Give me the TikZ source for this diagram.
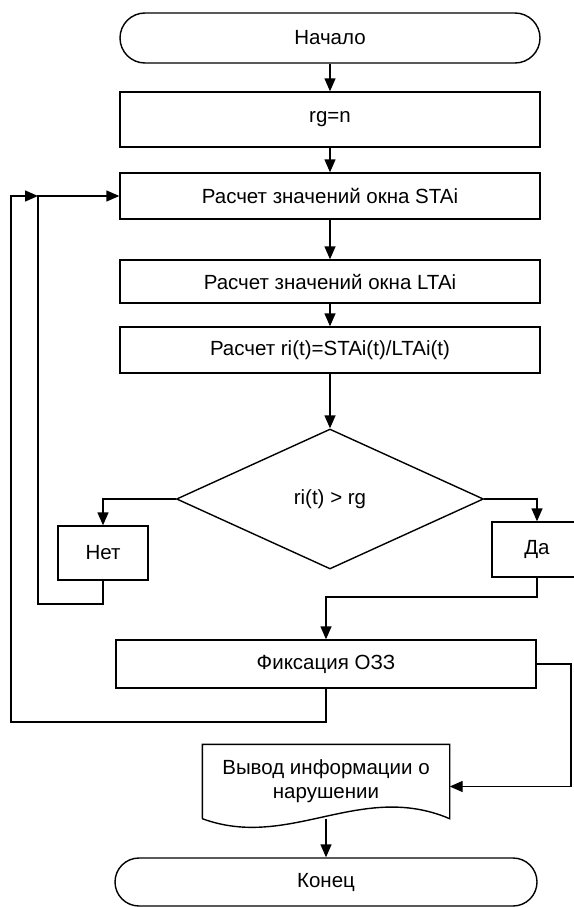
\documentclass[tikz,border=0pt]{standalone}
\usepackage{fontspec}
\setmainfont{Liberation Sans}
\usetikzlibrary{arrows.meta,shapes.geometric}

\tikzset{
  every node/.style={font=\fontsize{20.5}{24}\selectfont},
  block/.style={draw,minimum width=420pt,inner sep=0pt},
  term/.style={draw,rounded corners=25pt,minimum width=420pt,minimum height=50pt,inner sep=0pt},
  small/.style={draw,minimum width=90pt,minimum height=54pt,inner sep=0pt},
  cond/.style={draw,diamond,minimum width=307pt,minimum height=140pt,inner sep=0pt},
  flow/.style={-{Triangle[length=13pt,width=11pt]}}
}

\begin{document}
\begin{tikzpicture}[x=1pt,y=-1pt,line width=1.4pt]
\useasboundingbox (0,0) rectangle (573,907);

\node[term] (start) at (330,38) {Начало};
\node[block,minimum height=55pt] (init) at (330,119.5) {rg=n};
\node[block,minimum height=46pt] (sta) at (330,196) {Расчет значений окна STAi};
\node[block,minimum height=43pt] (lta) at (330,281.5) {Расчет значений окна LTAi};
\node[block,minimum height=46pt] (ratio) at (330,350) {Расчет ri(t)=STAi(t)/LTAi(t)};
\node[cond] (test) at (330,499) {ri(t) > rg};
\node[small] (no) at (103,553) {Нет};
\node[small,minimum height=55pt] (yes) at (537,549.5) {Да};
\node[block,minimum height=48pt] (fix) at (326,664) {Фиксация ОЗЗ};
\node[minimum width=246pt,minimum height=73pt,inner sep=0pt,align=center] (out) at (326,781.5) {Вывод информации о\\нарушении};
\node[term,minimum width=422pt,minimum height=48pt,rounded corners=24pt] (stop) at (326,882) {Конец};

\draw (out.south west) -- (out.north west) -- (out.north east) -- (out.south east)
  .. controls +(-89,-38) and +(87,32) .. (out.south west);

\coordinate (loopa) at (38,604);
\coordinate (loopb) at (11,722);
\coordinate (loopend) at (loopa |- sta.west);
\coordinate (yesjoin) at (326,597);
\coordinate (outturn) at (571,664);

\draw[flow] (start) -- (init);
\draw[flow] (init) -- (sta);
\draw[flow] (sta) -- (lta);
\draw[flow] (lta) -- (ratio);
\draw[flow] (ratio) -- (test);
\draw[flow] (test.west) -| (no.north);
\draw[flow] (test.east) -| (yes.north);
\draw[flow] (no.south) |- (loopa) |- (sta.west);
\draw[flow] (yes.south) |- (yesjoin) -- (fix.north);
\draw[flow] (fix.south) |- (loopb) |- (loopend);
\draw[flow] (fix.east) -- (outturn) |- ([yshift=-5pt]out.east);
\draw[flow] (out.south) -- (stop.north);
\end{tikzpicture}
\end{document}
